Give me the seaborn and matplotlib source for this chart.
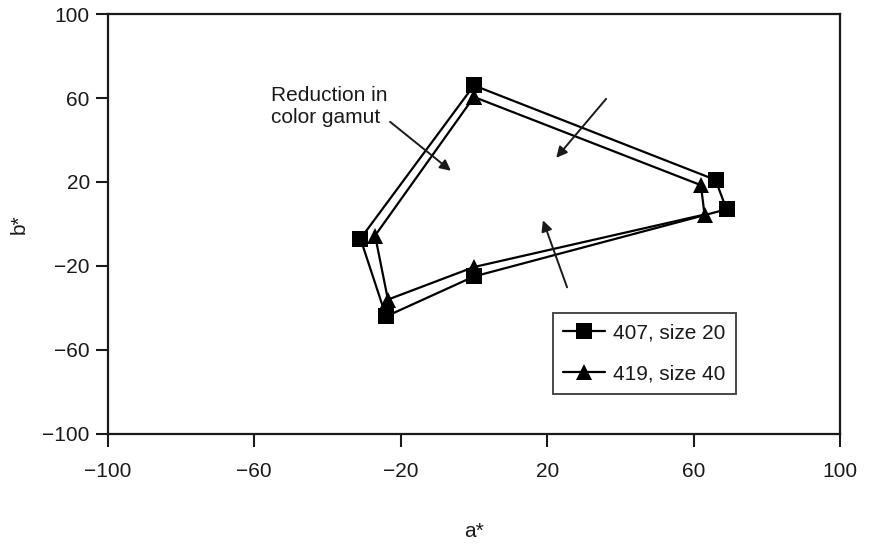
import matplotlib
matplotlib.use("Agg")
import matplotlib.pyplot as plt
import seaborn as sns
import pandas as pd

# CIELAB gamut corners (a*, b*) for the two samples
a_407 = [0, 66, 69, 0, -24, -31]
b_407 = [66, 21, 7, -25, -44, -7]
a_419 = [0, 62, 63, 0, -23.5, -27]
b_419 = [60.5, 18.5, 4.5, -20.5, -36, -5.5]

label_407 = "407, size 20"
label_419 = "419, size 40"

ticks = [-100, -60, -20, 20, 60, 100]
tick_labels = ["\u2212100", "\u221260", "\u221220", "20", "60", "100"]

sns.set_theme(style="ticks")
plt.rcParams["font.family"] = ["Liberation Sans", "DejaVu Sans"]

ink = "#1a1a1a"
fs = 15
fig = plt.figure(figsize=(8.7, 5.47), dpi=100)
ax = fig.add_axes([0.124, 0.2066, 0.8415, 0.7678])


def closed(xs, ys):
    return pd.DataFrame({"a": list(xs) + [xs[0]], "b": list(ys) + [ys[0]]})


sns.lineplot(data=closed(a_407, b_407), x="a", y="b", sort=False, estimator=None,
             color="black", lw=1.6, marker="s", markersize=11.5, markeredgewidth=0,
             label=label_407, ax=ax)
sns.lineplot(data=closed(a_419, b_419), x="a", y="b", sort=False, estimator=None,
             color="black", lw=1.6, marker="^", markersize=11.5, markeredgewidth=0,
             label=label_419, ax=ax)

ax.set_xlim(-100, 100)
ax.set_ylim(-100, 100)
ax.set_xticks(ticks)
ax.set_yticks(ticks)
ax.set_xticklabels(tick_labels)
ax.set_yticklabels(tick_labels)
ax.tick_params(axis="x", length=9, width=1.5, pad=11, colors=ink, labelsize=fs)
ax.tick_params(axis="y", length=9, width=1.5, pad=4, colors=ink, labelsize=fs)
for sp in ax.spines.values():
    sp.set_visible(True)
    sp.set_linewidth(1.6)
    sp.set_color(ink)

ax.set_xlabel("a*", fontsize=fs, color=ink, labelpad=30)
ax.set_ylabel("b*", fontsize=fs, color=ink, labelpad=10)

# arrows showing the shrinking gamut
arrow = dict(arrowstyle="-|>", color=ink, lw=1.4, mutation_scale=16)
ax.text(-55.5, 65.5, "Reduction in\ncolor gamut", fontsize=fs, color=ink,
        ha="left", va="top", linespacing=1.15)
ax.annotate("", xy=(-5.7, 24.5), xytext=(-23.5, 49.5), arrowprops=arrow)
ax.annotate("", xy=(22, 30.5), xytext=(36.6, 60.6), arrowprops=arrow)
ax.annotate("", xy=(18.6, 3), xytext=(25.7, -31.4), arrowprops=arrow)

leg = ax.legend(loc="upper left", bbox_to_anchor=(0.608, 0.288), frameon=True,
                fancybox=False, edgecolor=ink, fontsize=fs, handlelength=2.0,
                labelspacing=1.05, borderpad=0.5, handletextpad=0.4,
                borderaxespad=0)
leg.get_frame().set_linewidth(1.4)
for t in leg.get_texts():
    t.set_color(ink)

fig.savefig("out.png", dpi=100, facecolor="white")
